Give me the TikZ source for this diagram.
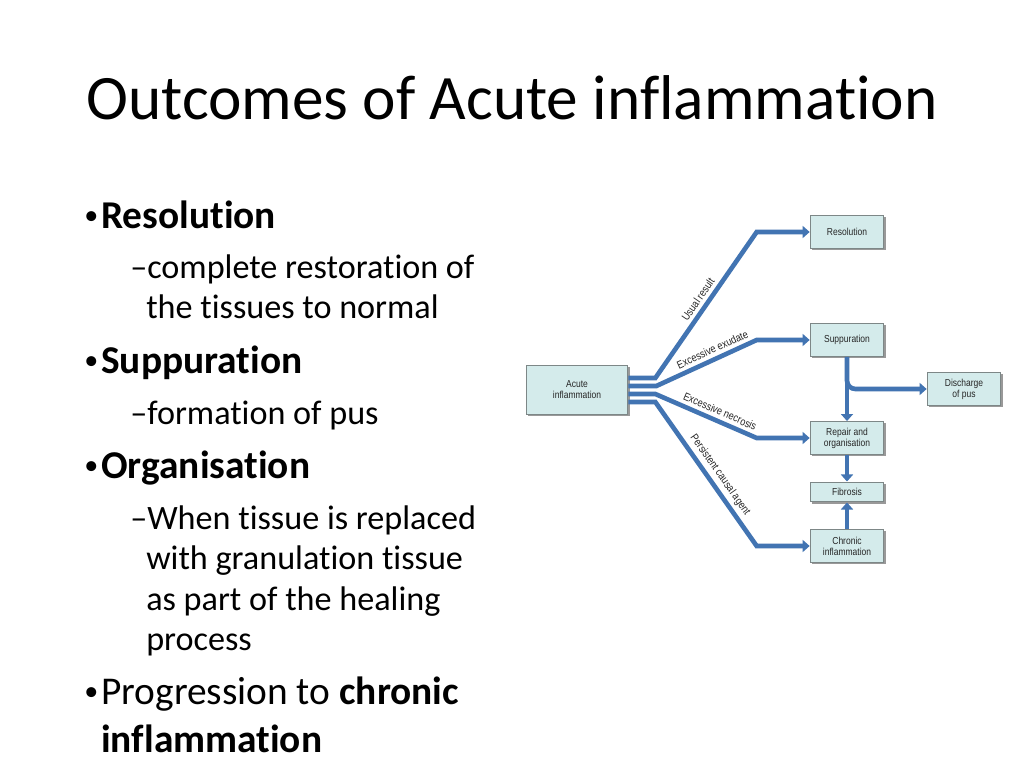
\documentclass[tikz,border=0pt]{standalone}
\usepackage{fontspec}
\setmainfont[Ligatures=NoCommon]{Carlito}
\newfontfamily\diagfont[FakeStretch=0.84]{Liberation Sans}
\usetikzlibrary{arrows.meta,positioning,calc,shadows}
\definecolor{flowBlue}{RGB}{66,116,178}
\definecolor{boxFill}{RGB}{212,235,235}
\definecolor{boxLine}{RGB}{125,135,135}

\begin{document}
\begin{tikzpicture}[x=0.025cm, y=-0.025cm,
    box/.style={draw=boxLine, fill=boxFill, line width=0.7pt, inner sep=0pt,
      minimum width=52.4pt, minimum height=23.4pt, align=center,
      font=\diagfont\fontsize{7.2}{7.8}\selectfont, text=black!85,
      drop shadow={shadow xshift=1.3pt, shadow yshift=-1.3pt, opacity=0.4, fill=black}},
    flow/.style={draw=flowBlue, line width=3.3pt, -{Triangle[length=5pt,width=8.5pt]}},
    lbl/.style={font=\diagfont\fontsize{7.8}{8.4}\selectfont, text=black!85, sloped, above, inner sep=2.5pt},
    dot/.style={anchor=base west, inner sep=0pt, font=\fontsize{20}{24}\selectfont},
    mainline/.style={anchor=base west, inner sep=0pt, font=\fontsize{28}{34}\selectfont},
    subline/.style={anchor=base west, inner sep=0pt, font=\fontsize{24.3}{29}\selectfont}]
    \useasboundingbox[fill=white] (0,0) rectangle (1024,768);

    % Title
    \node (title) at (512,98) {\fontsize{45}{54}\selectfont Outcomes of Acute inflammation};

    % Bullet list
    \node[dot] (d1) at (84,224) {•};
    \node[mainline] (b1) at (101,228) {\textbf{Resolution}};
    \node[subline] (s1a) at (130,278) {–complete restoration of};
    \node[subline] (s1b) at (146,318) {the tissues to normal};

    \node[dot] (d2) at (84,369) {•};
    \node[mainline] (b2) at (101,373) {\textbf{Suppuration}};
    \node[subline] (s2a) at (130,424) {–formation of pus};

    \node[dot] (d3) at (84,474) {•};
    \node[mainline] (b3) at (101,478) {\textbf{Organisation}};
    \node[subline] (s3a) at (130,529) {–When tissue is replaced};
    \node[subline] (s3b) at (146,569) {with granulation tissue};
    \node[subline] (s3c) at (146,610) {as part of the healing};
    \node[subline] (s3d) at (146,650) {process};

    \node[dot] (d4) at (84,700) {•};
    \node[mainline] (b4) at (101,704) {Progression to \textbf{chronic}};
    \node[mainline] (b4b) at (101,752) {\textbf{inflammation}};

    % Boxes
    \node[box, minimum width=72.3pt, minimum height=34.7pt] (acute) at (577,390) {Acute\\inflammation};
    \node[box] (res) at (847,232) {Resolution};
    \node[box] (sup) at (847,340) {Suppuration};
    \node[box] (dis) at (964,389) {Discharge\\of pus};
    \node[box] (rep) at (847,438) {Repair and\\organisation};
    \node[box, minimum height=14.2pt] (fib) at (847,492) {Fibrosis};
    \node[box] (chr) at (847,546) {Chronic\\inflammation};

    % Fan out of the acute box
    \draw[flow] ($(acute.east)+(0,-12)$) -- ++(27,0)
      -- node[lbl, pos=0.5] {Usual result} ($(res.west)+(-53,0)$) -- (res.west);
    \draw[flow] ($(acute.east)+(0,-4)$) -- ++(28,0)
      -- node[lbl, pos=0.6] {Excessive exudate} ($(sup.west)+(-53,0)$) -- (sup.west);
    \draw[flow] ($(acute.east)+(0,4)$) -- ++(27,0)
      -- node[lbl, pos=0.6] {Excessive necrosis} ($(rep.west)+(-53,0)$) -- (rep.west);
    \draw[flow] ($(acute.east)+(0,12)$) -- ++(27,0)
      -- node[lbl, pos=0.55] {Persistent causal agent} ($(chr.west)+(-53,0)$) -- (chr.west);

    % Right hand column
    \draw[flow] (sup.south) -- (rep.north);
    \draw[flow, rounded corners=6pt] (sup.south) |- (dis.west);
    \draw[flow] (rep.south) -- (fib.north);
    \draw[flow] (chr.north) -- (fib.south);
  \end{tikzpicture}
\end{document}
